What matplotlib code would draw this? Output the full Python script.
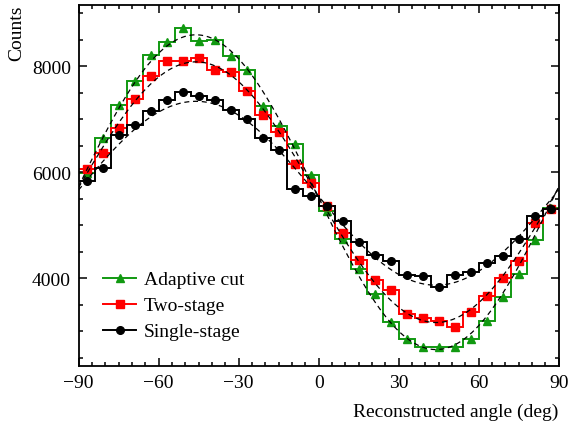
import numpy as np
import matplotlib
matplotlib.use("Agg")
import matplotlib.pyplot as plt

plt.rcParams['font.family'] = ['Liberation Serif', 'DejaVu Serif']
plt.rcParams['mathtext.fontset'] = 'stix'

# histogram binning: 30 bins of 6 deg
bin_edges = np.arange(-90, 91, 6)
bin_centers = np.arange(-87, 88, 6)

# counts per bin
adaptive_cut = [5981, 6636, 7270, 7717, 8208, 8459, 8717, 8478, 8497, 8183,
                7925, 7240, 6862, 6522, 5943, 5270, 4735, 4169, 3697, 3163,
                2849, 2691, 2691, 2691, 2849, 3183, 3635, 4075, 4722, 5315]
two_stage = [6056, 6353, 6824, 7372, 7806, 8094, 8094, 8145, 7925, 7893,
             7528, 7082, 6749, 6151, 5786, 5364, 4849, 4345, 3968, 3773,
             3326, 3245, 3188, 3069, 3364, 3666, 4005, 4315, 5037, 5300]
single_stage = [5825, 6075, 6698, 6887, 7151, 7358, 7515, 7428, 7358, 7175,
                7006, 6641, 6415, 5685, 5553, 5353, 5081, 4679, 4434, 4315,
                4050, 4032, 3824, 4050, 4107, 4282, 4408, 4735, 5164, 5302]

# cosine fit parameters: offset, amplitude, peak position (deg)
fit_adaptive = (5620, 2970, -46)
fit_two = (5620, 2460, -46)
fit_single = (5600, 1735, -46)

series = [
    ("Adaptive cut", adaptive_cut, fit_adaptive, '#119911', '^'),
    ("Two-stage", two_stage, fit_two, '#ff0000', 's'),
    ("Single-stage", single_stage, fit_single, 'black', 'o'),
]

fig = plt.figure(figsize=(5.69, 4.31), dpi=100)
ax = fig.add_axes([0.138, 0.1485, 0.844, 0.8385])

xs = np.linspace(-90, 90, 400)
for label, vals, fit, col, mk in series:
    ax.stairs(vals, bin_edges, color=col, lw=1.4, baseline=None)
    ax.plot(bin_centers, vals, ls='none', marker=mk, color=col, ms=5.5,
            label=label)

for label, vals, fit, col, mk in series:
    a, b, x0 = fit
    ax.plot(xs, a + b * np.cos(np.radians(2 * (xs - x0))), color='black',
            lw=0.9, ls=(0, (4, 3)), zorder=5)

# legend handles with line + marker
handles = [plt.Line2D([], [], color=col, marker=mk, ms=5.5, lw=1.4)
           for label, vals, fit, col, mk in series]
ax.legend(handles, [s[0] for s in series], loc='lower left',
          bbox_to_anchor=(0.051, 0.071), frameon=False, fontsize=14,
          handlelength=1.7, handletextpad=0.4, labelspacing=0.43,
          borderaxespad=0, borderpad=0)

ax.set_xlim(-90, 90)
ax.set_ylim(2340, 9160)
ax.set_xticks([-90, -60, -30, 0, 30, 60, 90])
ax.set_xticks(np.arange(-90, 91, 5), minor=True)
ax.set_yticks([4000, 6000, 8000])
ax.set_yticks(np.arange(2500, 9200, 500), minor=True)
ax.tick_params(which='both', direction='in', top=True, right=True,
               labelsize=14, width=1.1)
ax.tick_params(which='major', length=6, pad=5.5)
ax.tick_params(which='minor', length=3)
for sp in ax.spines.values():
    sp.set_linewidth(1.3)

ax.set_xlabel('Reconstructed angle (deg)', fontsize=14, loc='right',
              labelpad=9)
ax.set_ylabel('Counts', fontsize=14, loc='top', labelpad=5)

fig.savefig('out.png', dpi=100)
